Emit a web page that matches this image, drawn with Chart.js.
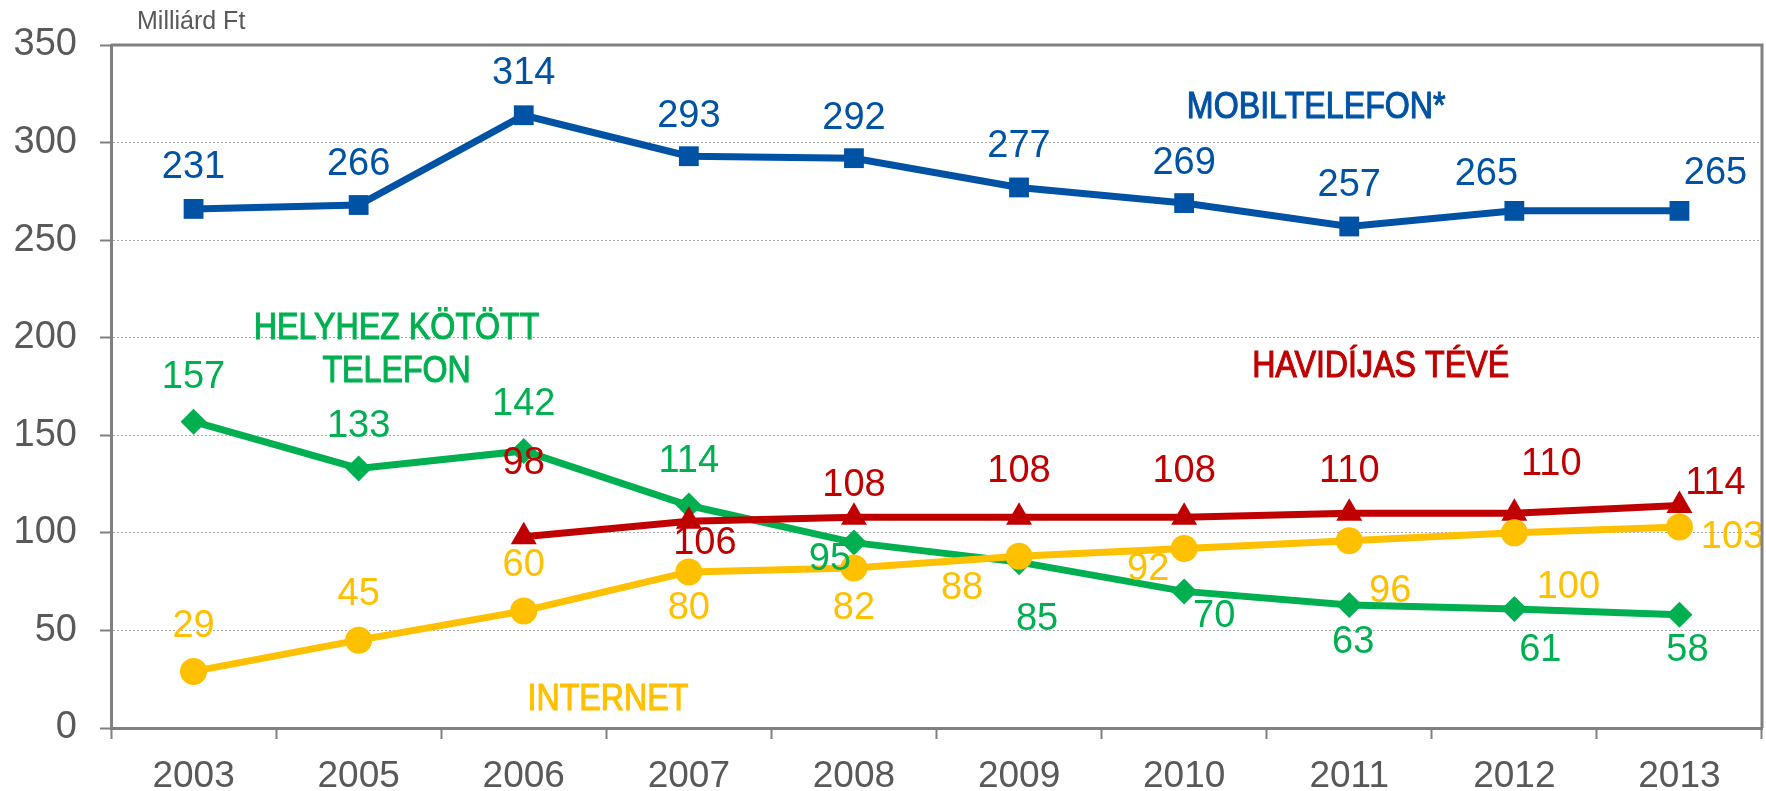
<!DOCTYPE html>
<html>
<head>
<meta charset="utf-8">
<script src="https://cdn.jsdelivr.net/npm/chart.js@4/dist/chart.umd.min.js"></script>
<style>
  html, body { margin: 0; padding: 0; background: #ffffff; }
  #wrap { width: 1766px; height: 791px; position: relative; }
  canvas { display: block; }
</style>
</head>
<body>
<div id="wrap"><canvas id="c" width="1766" height="791"></canvas></div>
<script>
// ---------- DATA ----------
const years = ['2003', '2005', '2006', '2007', '2008', '2009', '2010', '2011', '2012', '2013'];
const mobilePlotted = [266, 268, 314, 293, 292, 277, 269, 257, 265, 265];
const mobileLabels  = [231, 266, 314, 293, 292, 277, 269, 257, 265, 265];
const fixedPhone    = [157, 133, 142, 114, 95, 85, 70, 63, 61, 58];
const payTV         = [null, null, 98, 106, 108, 108, 108, 110, 110, 114];
const internet      = [29, 45, 60, 80, 82, 88, 92, 96, 100, 103];
const yMin = 0, yMax = 350, yStep = 50;
const unitLabel = 'Milliárd Ft';
const seriesNames = {
  mobile: ['MOBILTELEFON*'],
  fixed: ['HELYHEZ KÖTÖTT', 'TELEFON'],
  tv: ['HAVIDÍJAS TÉVÉ'],
  internet: ['INTERNET']
};

// ---------- STYLE ----------
const COLORS = { mobile: '#0052A5', fixed: '#00B050', tv: '#C00000', internet: '#FFC000',
                 axis: '#808080', text: '#595959', grid: '#A6A6A6' };
const NUM_FONT = '38px "Liberation Sans", Arial, sans-serif';
const NAME_FONT = '37px "Liberation Sans", Arial, sans-serif';
const NAME_SCALE_X = 0.87;
// label offsets (px) from each point
const OFFSETS = {
  mobile:   [[0,-41],[0,-41],[0,-42],[0,-40],[0,-40],[0,-41],[0,-40],[0,-41],[-28,-36],[36,-37]],
  fixed:    [[0,-44],[0,-42],[0,-46],[0,-44],[-24,17],[18,57],[30,25],[4,37],[26,42],[8,36]],
  tv:       [null,null,[0,-73],[16,22],[0,-32],[0,-46],[0,-46],[0,-42],[37,-49],[36,-22]],
  internet: [[0,-45],[0,-46],[0,-45],[0,37],[0,41],[-57,32],[-36,21],[41,51],[54,55],[53,11]]
};
// series name anchors in axis units [category index, value]
const NAME_POS = {
  mobile: [[6.80, 318]],
  fixed: [[1.23, 204.5], [1.23, 182.4]],
  tv: [[7.19, 185]],
  internet: [[2.51, 14.3]]
};

const labelPlugin = {
  id: 'labels',
  afterDatasetsDraw(chart) {
    const ctx = chart.ctx;
    ctx.save();
    ctx.textAlign = 'center';
    ctx.textBaseline = 'middle';
    chart.data.datasets.forEach((ds, di) => {
      const meta = chart.getDatasetMeta(di);
      const offs = OFFSETS[ds.key];
      ctx.font = NUM_FONT;
      ctx.fillStyle = ds.borderColor;
      meta.data.forEach((pt, i) => {
        const v = ds.labels[i];
        if (v === null || v === undefined || !offs[i]) return;
        ctx.fillText(String(v), pt.x + offs[i][0], pt.y + offs[i][1]);
      });
      ctx.font = NAME_FONT;
      ctx.strokeStyle = ds.borderColor;
      ctx.lineWidth = 1.1;
      const xs = chart.scales.x, ys = chart.scales.y;
      seriesNames[ds.key].forEach((t, k) => {
        const p = NAME_POS[ds.key][k];
        ctx.save();
        ctx.translate(xs.getPixelForValue(p[0]), ys.getPixelForValue(p[1]));
        ctx.scale(NAME_SCALE_X, 1);
        ctx.fillText(t, 0, 0);
        ctx.strokeText(t, 0, 0);
        ctx.restore();
      });
    });
    ctx.restore();
  }
};

const framePlugin = {
  id: 'frame',
  afterDraw(chart) {
    const { ctx, chartArea: a } = chart;
    ctx.save();
    ctx.strokeStyle = COLORS.axis;
    ctx.lineWidth = 3;
    ctx.beginPath();
    ctx.moveTo(a.left, a.top);
    ctx.lineTo(a.right, a.top);
    ctx.lineTo(a.right, a.bottom);
    ctx.stroke();
    ctx.font = '25px "Liberation Sans", Arial, sans-serif';
    ctx.fillStyle = COLORS.text;
    ctx.textAlign = 'left';
    ctx.textBaseline = 'middle';
    ctx.fillText(unitLabel, 137, 22);
    ctx.restore();
  }
};

function mk(key, data, labels, style, radius, order) {
  return {
    key, data, labels, order,
    borderColor: COLORS[key], backgroundColor: COLORS[key],
    pointBackgroundColor: COLORS[key], pointBorderColor: COLORS[key],
    borderWidth: 7, pointStyle: style, pointRadius: radius, pointBorderWidth: 0,
    tension: 0, spanGaps: false, clip: false
  };
}

new Chart(document.getElementById('c'), {
  type: 'line',
  data: {
    labels: years,
    datasets: [
      mk('mobile', mobilePlotted, mobileLabels, 'rect', 14, 3),
      mk('fixed', fixedPhone, fixedPhone, 'rectRot', 13, 2),
      mk('tv', payTV, payTV, 'triangle', 15, 1),
      mk('internet', internet, internet, 'circle', 13.5, 0)
    ]
  },
  options: {
    responsive: false,
    animation: false,
    events: [],
    layout: { autoPadding: false, padding: { top: 45, right: 4, left: 0, bottom: 0 } },
    plugins: { legend: { display: false }, tooltip: { enabled: false } },
    scales: {
      x: {
        offset: true,
        grid: { offset: true, drawOnChartArea: false, drawTicks: true, tickLength: 11,
                tickColor: COLORS.axis, tickWidth: 2 },
        border: { display: true, color: COLORS.axis, width: 3 },
        ticks: { color: COLORS.text, font: { family: '"Liberation Sans", Arial, sans-serif', size: 37 }, padding: 16, maxRotation: 0 },
        afterFit(s) { s.height = 63; s.paddingLeft = 0; s.paddingRight = 0; }
      },
      y: {
        min: yMin, max: yMax,
        grid: {
          color: (c) => (c.tick && (c.tick.value === yMin || c.tick.value === yMax)) ? 'rgba(0,0,0,0)' : COLORS.grid,
          lineWidth: 1, tickLength: 11, tickColor: COLORS.axis, tickWidth: 2, tickBorderDash: []
        },
        border: { display: true, color: COLORS.axis, width: 3, dash: [2, 2] },
        ticks: { stepSize: yStep, color: COLORS.text, font: { family: '"Liberation Sans", Arial, sans-serif', size: 38 }, padding: 23 },
        afterFit(s) { s.width = 111; s.paddingTop = 0; s.paddingBottom = 0; }
      }
    }
  },
  plugins: [labelPlugin, framePlugin]
});
</script>
</body>
</html>
